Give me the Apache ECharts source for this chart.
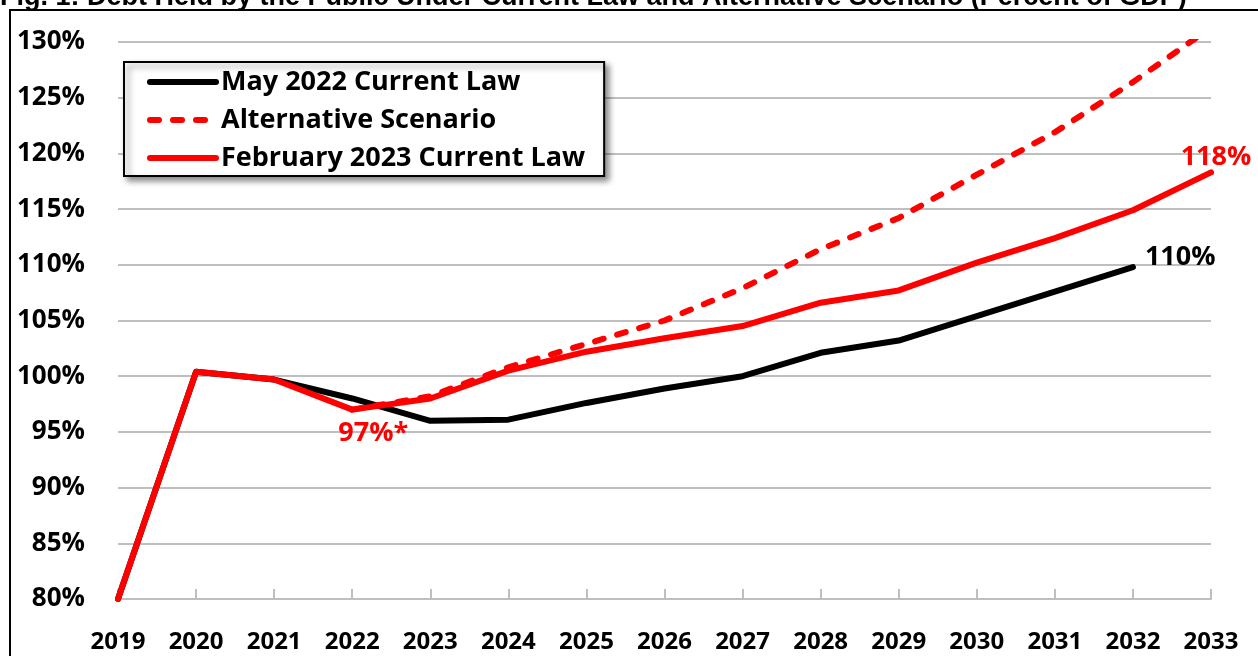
<!DOCTYPE html>
<html>
<head>
<meta charset="utf-8">
<script src="https://cdn.jsdelivr.net/npm/echarts@6/dist/echarts.min.js"></script>
<style>
html,body{margin:0;padding:0;background:#fff;}
#chart{width:1258px;height:656px;}
</style>
</head>
<body>
<div id="chart"></div>
<script>
const years = ['2019','2020','2021','2022','2023','2024','2025','2026','2027','2028','2029','2030','2031','2032','2033'];
const may2022CurrentLaw = [80.0, 100.4, 99.7, 98.0, 96.0, 96.1, 97.6, 98.9, 100.0, 102.1, 103.2, 105.4, 107.6, 109.8, null];
const alternativeScenario = [null, null, null, 97.0, 98.2, 100.8, 102.9, 105.0, 107.9, 111.4, 114.2, 118.1, 121.9, 126.4, 131.3];
const feb2023CurrentLaw = [80.0, 100.4, 99.7, 97.0, 98.0, 100.5, 102.2, 103.4, 104.5, 106.6, 107.7, 110.2, 112.4, 114.9, 118.3];
const seriesNames = ['May 2022 Current Law', 'Alternative Scenario', 'February 2023 Current Law'];
const pointLabels = {may: {13: '110%'}, feb: {3: '97%*', 14: '118%'}};
const titleText = 'Fig. 1: Debt Held by the Public Under Current Law and Alternative Scenario (Percent of GDP)';
const yMin = 80, yMax = 130, yStep = 5;

const labelFont = {fontFamily: 'Open Sans', fontWeight: 'bold', fontSize: 27};

function withLabels(values, texts, styles) {
  return values.map((v, i) => {
    if (texts[i] !== undefined) {
      return {value: v, label: Object.assign({show: true, formatter: texts[i]}, labelFont, styles[i])};
    }
    return v;
  });
}

const chart = echarts.init(document.getElementById('chart'), null, {renderer: 'canvas'});
chart.setOption({
  animation: false,
  backgroundColor: '#fff',
  title: {
    text: titleText,
    left: 0,
    top: -16,
    padding: 0,
    textStyle: {fontFamily: 'Liberation Sans', fontWeight: 'bold', fontSize: 27, color: '#000'}
  },
  graphic: [{
    type: 'rect',
    z: -1,
    shape: {x: 10, y: 10, width: 1300, height: 700},
    style: {fill: 'none', stroke: '#000', lineWidth: 2}
  }],
  grid: {left: 118, right: 47, top: 42, bottom: 57, containLabel: false},
  legend: {
    data: seriesNames,
    orient: 'vertical',
    left: 124,
    top: 62,
    itemWidth: 66,
    itemHeight: 14,
    itemGap: 8,
    padding: [5, 19, 3, 23],
    backgroundColor: '#fff',
    borderColor: '#000',
    borderWidth: 2,
    shadowColor: 'rgba(0,0,0,0.45)',
    shadowBlur: 6,
    shadowOffsetX: 4,
    shadowOffsetY: 4,
    itemStyle: {color: 'rgba(0,0,0,0)', borderColor: 'rgba(0,0,0,0)', borderWidth: 0},
    lineStyle: {width: 6, cap: 'round'},
    textStyle: {fontFamily: 'Open Sans', fontWeight: 'bold', fontSize: 27, color: '#000', lineHeight: 30}
  },
  xAxis: {
    type: 'category',
    data: years,
    boundaryGap: false,
    axisLine: {show: true, lineStyle: {color: '#bfbfbf', width: 2}},
    axisTick: {show: true, inside: true, length: 10, alignWithLabel: true, lineStyle: {color: '#bfbfbf', width: 2}},
    axisLabel: {margin: 31, color: '#000', fontFamily: 'Open Sans', fontWeight: 'bold', fontSize: 24}
  },
  yAxis: {
    type: 'value',
    min: yMin,
    max: yMax,
    interval: yStep,
    axisLine: {show: false},
    axisTick: {show: false},
    splitLine: {lineStyle: {color: '#bfbfbf', width: 2}},
    axisLabel: {margin: 33, color: '#000', fontFamily: 'Open Sans', fontWeight: 'bold', fontSize: 26, formatter: '{value}%'}
  },
  series: [
    {
      name: seriesNames[0],
      type: 'line',
      data: withLabels(may2022CurrentLaw, pointLabels.may, {13: {position: 'right', distance: 12, offset: [0, -10], color: '#000'}}),
      symbol: 'circle',
      symbolSize: 0,
      showSymbol: true,
      lineStyle: {color: '#000', width: 6, cap: 'round', join: 'round'},
      itemStyle: {color: '#000'}
    },
    {
      name: seriesNames[1],
      type: 'line',
      data: alternativeScenario,
      symbol: 'circle',
      symbolSize: 0,
      showSymbol: true,
      lineStyle: {color: '#ff0000', width: 6, type: [9, 14], cap: 'round', join: 'round'},
      itemStyle: {color: '#ff0000'}
    },
    {
      name: seriesNames[2],
      type: 'line',
      data: withLabels(feb2023CurrentLaw, pointLabels.feb, {
        3: {position: 'bottom', distance: 4, offset: [21, 6], color: '#ff0000'},
        14: {position: 'top', distance: 2, offset: [5, 0], color: '#ff0000'}
      }),
      symbol: 'circle',
      symbolSize: 0,
      showSymbol: true,
      lineStyle: {color: '#ff0000', width: 6, cap: 'round', join: 'round'},
      itemStyle: {color: '#ff0000'}
    }
  ]
});
</script>
</body>
</html>
